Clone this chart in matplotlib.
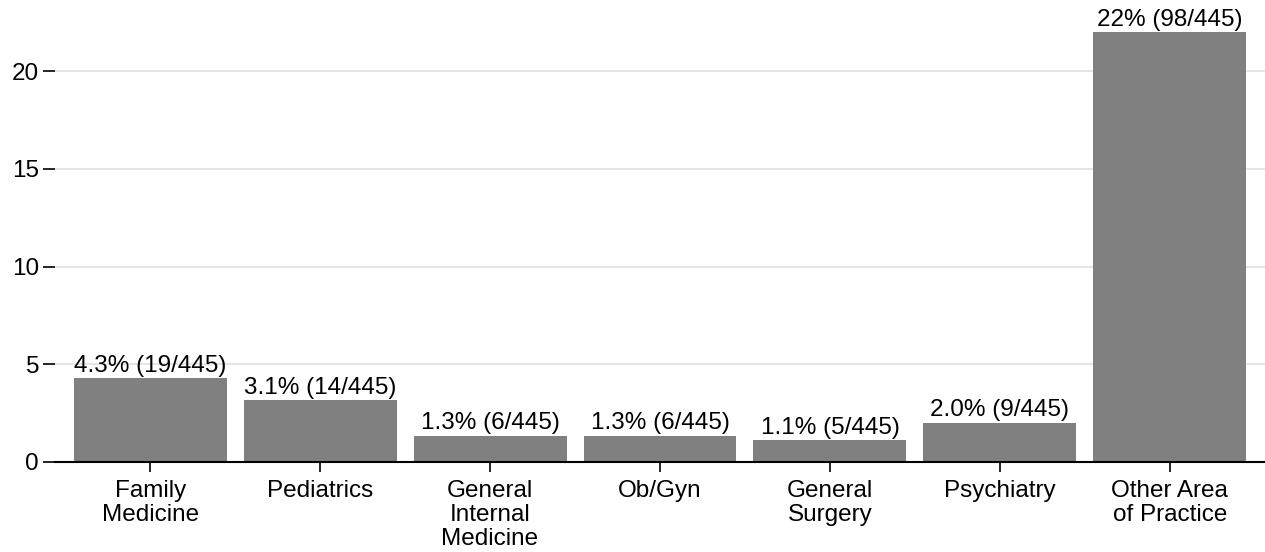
import matplotlib
matplotlib.use("Agg")
import matplotlib.pyplot as plt

categories = ["Family\nMedicine", "Pediatrics", "General\nInternal\nMedicine",
              "Ob/Gyn", "General\nSurgery", "Psychiatry", "Other Area\nof Practice"]
percent = [4.3, 3.15, 1.35, 1.35, 1.12, 2.02, 22.0]
value_labels = ["4.3% (19/445)", "3.1% (14/445)", "1.3% (6/445)", "1.3% (6/445)",
                "1.1% (5/445)", "2.0% (9/445)", "22% (98/445)"]
yticks = [0, 5, 10, 15, 20]

plt.rcParams["font.family"] = ["Liberation Sans", "DejaVu Sans"]
fs = 17.5

fig = plt.figure(figsize=(12.65, 5.52), dpi=100)
ax = fig.add_axes([55 / 1265, 1 - 462 / 552, 1 - 55 / 1265, (462 - 30) / 552])

x = range(len(categories))
ax.bar(x, percent, width=0.9, color="#808080", edgecolor="none", zorder=2)

for xi, v, lab in zip(x, percent, value_labels):
    ax.annotate(lab, (xi, v), xytext=(0, 1), textcoords="offset points",
                ha="center", va="bottom", fontsize=fs, annotation_clip=False)

ax.set_xlim(-0.56, len(categories) - 0.44)
ax.set_ylim(0, 22.1)
ax.set_yticks(yticks)
ax.set_xticks(list(x))
ax.set_xticklabels(categories, fontsize=fs, linespacing=1.12)
ax.tick_params(axis="y", labelsize=fs, length=8.5, width=1.2, pad=3)
ax.tick_params(axis="x", length=7, width=1.2, pad=6)

for y in yticks[1:]:
    ax.axhline(y, color="#e6e6e6", lw=1.5, zorder=1)

for s in ["top", "right", "left"]:
    ax.spines[s].set_visible(False)
ax.spines["bottom"].set_linewidth(1.5)
ax.spines["bottom"].set_zorder(3)

fig.savefig("out.png", dpi=100)
